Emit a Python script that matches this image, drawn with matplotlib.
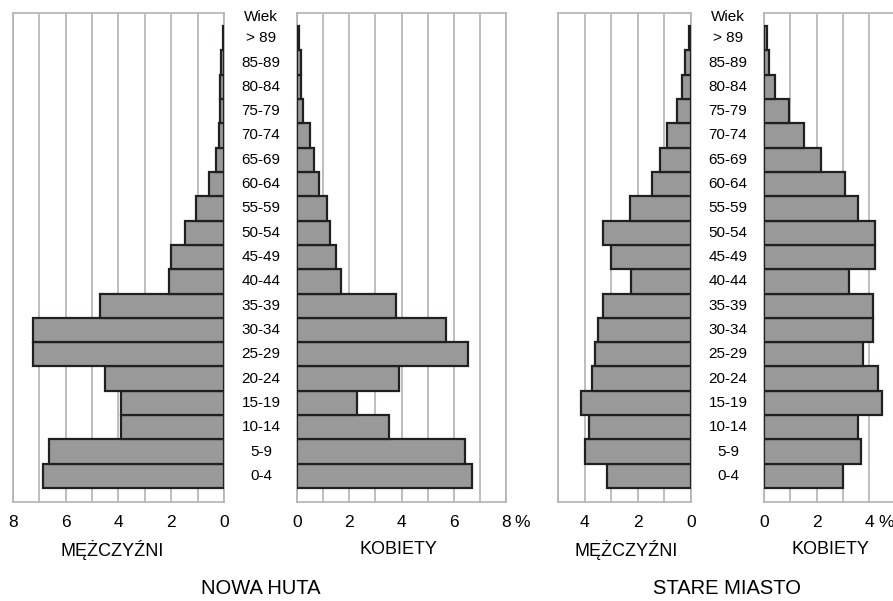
import matplotlib
matplotlib.use("Agg")
import matplotlib.pyplot as plt
import matplotlib.transforms as mtransforms

plt.rcParams['font.family'] = ['Liberation Sans Narrow', 'Liberation Sans', 'DejaVu Sans']

# grupy wieku, od dołu (0-4) do góry (> 89)
wiek = ['0-4', '5-9', '10-14', '15-19', '20-24', '25-29', '30-34', '35-39',
        '40-44', '45-49', '50-54', '55-59', '60-64', '65-69', '70-74',
        '75-79', '80-84', '85-89', '> 89']

# Nowa Huta, % ludności
nh_mezczyzni = [6.84, 6.62, 3.9, 3.9, 4.5, 7.25, 7.25, 4.68, 2.09, 1.99,
                1.46, 1.06, 0.58, 0.3, 0.18, 0.15, 0.15, 0.1, 0.05]
nh_kobiety = [6.69, 6.44, 3.51, 2.28, 3.92, 6.56, 5.72, 3.79, 1.67, 1.49,
              1.26, 1.15, 0.82, 0.64, 0.49, 0.23, 0.15, 0.15, 0.06]

# Stare Miasto, % ludności
sm_mezczyzni = [3.14, 3.97, 3.82, 4.13, 3.72, 3.62, 3.49, 3.29, 2.25, 2.99,
                3.32, 2.28, 1.47, 1.16, 0.89, 0.51, 0.33, 0.23, 0.06]
sm_kobiety = [3.01, 3.70, 3.59, 4.48, 4.35, 3.77, 4.15, 4.13, 3.24, 4.23,
              4.23, 3.57, 3.09, 2.15, 1.52, 0.96, 0.4, 0.2, 0.1]

SZARY = '#b3b3b3'
SLUPEK = '#999999'
KRAWEDZ = '#231f20'

fig = plt.figure(figsize=(8.93, 6.01), dpi=100)

dol, wys = 1 - 502 / 601, (502 - 12.7) / 601
ylim = (-1.076, 19.05)
PAD = 9.5  # pt pod osią


def piramida(rect, wartosci, xmax, odwroc, ticki):
    ax = fig.add_axes(rect)
    y = list(range(len(wiek)))
    ax.barh(y, wartosci, height=1.0, color=SLUPEK, edgecolor=KRAWEDZ,
            linewidth=1.6, zorder=3)
    ax.set_ylim(*ylim)
    if odwroc:
        ax.set_xlim(xmax, 0)
    else:
        ax.set_xlim(0, xmax)
    for g in range(0, xmax + 1):
        ax.axvline(g, color=SZARY, linewidth=1.2, zorder=1)
    ax.set_yticks([])
    ax.set_xticks(ticki)
    ax.set_xticklabels([str(t) for t in ticki], fontsize=12.5)
    ax.tick_params(axis='x', length=0, pad=PAD)
    for s in ax.spines.values():
        s.set_color(SZARY)
        s.set_linewidth(1.2)
    return ax


ax1 = piramida([12.7 / 893, dol, 211.3 / 893, wys], nh_mezczyzni, 8, True, [8, 6, 4, 2, 0])
ax2 = piramida([297.3 / 893, dol, 208.4 / 893, wys], nh_kobiety, 8, False, [0, 2, 4, 6, 8])
ax3 = piramida([558 / 893, dol, 132.7 / 893, wys], sm_mezczyzni, 5, True, [4, 2, 0])
ax4 = piramida([764 / 893, dol, 131.5 / 893, wys], sm_kobiety, 5, False, [0, 2, 4])

# podpisy grup wieku pomiędzy połówkami piramid
for ax, xc in [(ax1, 261), (ax3, 728)]:
    tr = mtransforms.blended_transform_factory(fig.transFigure, ax.transData)
    for i, w in enumerate(wiek):
        ax.text(xc / 893, i, w, transform=tr, ha='center', va='center', fontsize=11)
    ax.text(xc / 893, 18.86, 'Wiek', transform=tr, ha='center', va='center', fontsize=11)

# znak procentu przy ostatnim ticku, na wysokości etykiet osi
for ax, xv in [(ax2, 8), (ax4, 4)]:
    tr = mtransforms.blended_transform_factory(ax.transData, ax.transAxes)
    off = mtransforms.ScaledTranslation(6.5 / 72, -PAD / 72, fig.dpi_scale_trans)
    ax.text(xv, 0, '%', transform=tr + off, ha='left', va='top', fontsize=12.5)

fig.text(112 / 893, 1 - 550 / 601, 'MĘŻCZYŹNI', ha='center', va='center', fontsize=13)
fig.text(398 / 893, 1 - 550 / 601, 'KOBIETY', ha='center', va='center', fontsize=13)
fig.text(626 / 893, 1 - 550 / 601, 'MĘŻCZYŹNI', ha='center', va='center', fontsize=13)
fig.text(830 / 893, 1 - 550 / 601, 'KOBIETY', ha='center', va='center', fontsize=13)

fig.text(261 / 893, 1 - 589 / 601, 'NOWA HUTA', ha='center', va='center', fontsize=14.5)
fig.text(727 / 893, 1 - 589 / 601, 'STARE MIASTO', ha='center', va='center', fontsize=14.5)

fig.savefig('out.png', dpi=100)
